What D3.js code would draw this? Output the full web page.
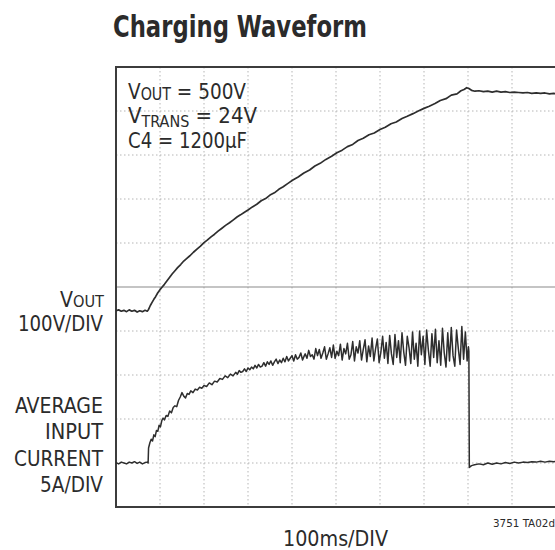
<!DOCTYPE html>
<html>
<head>
<meta charset="utf-8">
<script src="https://cdn.jsdelivr.net/npm/d3@7"></script>
<style>
  body { margin: 0; background: #fff; }
  text { font-family: "Liberation Sans Narrow", "Arial Narrow", "DejaVu Sans Condensed", sans-serif; fill: #2b2b2b; }
</style>
</head>
<body>
<div id="chart"></div>
<script>
var width = 555, height = 550

// time in ms (100ms/div), scope screen is 10 x 10 divisions
var divs = d3.range(0, 11)

// VOUT trace: [ms, volts]
var voutTrace = [
  [0,-4],[6,-2],[12,-5],[18,-3],[24,-6],[30,-2],[36,-5],[42,-3],[48,-7],[54,-4],[60,-6],[66,-3],[71,-5],[74,-1],
  [78,8],[82,15],[86,22],[90,28],[95,37],[100,44],[105,50],[110,56],[116,64],[122,72],[128,80],[134,87],[140,94],
  [147,101],[154,109],[161,115],[168,121],[176,129],[184,136],[192,143],[200,151],[208,157],[216,164],[224,170],
  [232,177],[240,183],[249,190],[258,196],[266,202],[275,209],[283,214],[292,220],[300,225],[310,232],[320,238],
  [330,246],[340,251],[350,259],[360,264],[370,272],[380,278],[390,285],[402,293],[414,300],[427,309],[440,316],
  [452,325],[464,331],[477,340],[490,347],[502,355],[514,361],[526,369],[538,374],[550,383],[562,388],[575,396],
  [587,400],[600,408],[612,413],[625,421],[637,425],[650,433],[662,438],[675,444],[687,450],[700,456],[712,461],
  [725,467],[737,474],[750,478],[762,486],[775,489],[784,496],[791,499],[797,503],[802,501],[808,497],[816,495],
  [825,496],[835,494],[845,495],[855,493],[865,495],[875,493],[885,494],[895,492],[905,493],[915,492],[925,491],
  [935,492],[945,490],[955,491],[965,490],[975,491],[985,489],[995,490],[1000,489]
]

// average input current trace: [ms, amps]
var currentTrace = [
  [0,0.05],[6,-0.1],[12,0.1],[18,0],[24,-0.1],[30,0.1],[36,0],[42,0.15],[48,-0.05],[54,0.1],[60,-0.1],[66,0.05],[71,0.1],[73,0],
  [74,1.7],[77,2.3],[80,2.7],[83,2.5],[86,3.2],[89,3.0],[92,3.7],[95,3.6],[98,4.3],[101,4.1],[104,4.8],[107,5.1],
  [110,4.9],[114,5.4],[118,5.3],[122,5.9],[126,5.7],[130,6.3],[134,6.5],[138,6.4],[142,7.1],[146,7.5],[150,8.0],
  [154,7.6],[158,7.4],[162,7.9],[166,7.8],[170,8.2],[175,8.0],[180,8.4],[185,8.3],[190,8.6],[195,8.5],[200,8.8],
  [206,8.7],[212,9.1],[218,8.9],[224,9.3],[230,9.2],[236,9.6],[242,9.5],[248,9.9],[254,9.7],[260,10.1],[266,9.9],
  [272,10.3],[276,10.1],[280,10.5],[284,10.3],[288,10.4],[292,10.7],[296,10.4],[300,10.8],[304,10.6],[308,10.9],
  [312,10.7],[316,11.1],[320,10.8],[324,11.2],[328,10.9],[332,11.0],[336,11.4],[340,11.0],[344,11.5],[348,11.2],
  [352,11.6],[356,11.1],[360,11.5],[364,11.8],[368,11.3],[372,11.7],[376,11.4],[380,11.9],[384,11.5],[388,12.1],
  [392,11.6],[396,11.9],[400,12.2],[404,11.6],[408,12.3],[412,11.8],[416,12.0],[420,12.5],[424,11.7],[428,12.2],
  [430,12.4],[434,11.9],[438,12.8],[442,12.1],[446,12.3],[450,11.8],[454,13.0],[458,12.2],[462,12.9],[466,11.9],
  [470,12.5],[474,13.2],[478,11.8],[482,12.4],[486,13.1],[490,12.0],[494,13.4],[498,11.9],[502,12.7],[506,12.2],
  [510,13.5],[514,11.7],[518,13.0],[522,12.4],[526,13.6],[530,11.8],[534,12.3],[538,13.8],[542,11.6],[546,13.2],
  [550,12.5],[554,13.9],[558,11.7],[562,12.9],[566,14.0],[570,11.5],[574,13.3],[578,12.1],[582,14.2],[586,11.6],
  [590,13.0],[594,14.1],[598,11.4],[602,12.6],[606,14.4],[610,11.9],[614,13.7],[618,11.3],[622,14.5],[626,12.4],
  [630,11.2],[634,14.6],[638,12.0],[642,13.9],[646,11.4],[650,14.8],[654,12.6],[658,11.1],[662,14.4],[666,13.1],
  [670,11.3],[674,14.9],[678,11.8],[682,13.6],[686,11.0],[690,15.0],[694,12.3],[698,14.4],[702,11.2],[706,15.1],
  [710,12.8],[714,11.0],[718,14.7],[722,12.0],[726,15.2],[730,11.4],[734,13.9],[738,11.1],[742,15.3],[746,12.5],
  [750,10.9],[754,14.8],[758,11.6],[762,15.4],[766,12.2],[770,11.0],[774,15.1],[778,13.0],[782,11.2],[786,15.5],
  [790,11.8],[794,14.9],[798,11.6],[801,13.2],[802,12.7],
  [803,-0.5],[808,-0.3],[815,-0.2],[825,-0.1],[835,-0.2],[845,0],[855,-0.15],[865,0],[875,-0.1],[885,0.05],
  [895,-0.05],[905,0.1],[915,0],[925,0.1],[935,0.05],[945,0.15],[955,0.1],[965,0.2],[975,0.1],[985,0.2],[995,0.15],[1000,0.2]
]

var conditions = [
  [["V", 22, 0], ["OUT", 17, 1], [" = 500V", 22, -1]],
  [["V", 22, 0], ["TRANS", 16, 4], [" = 24V", 22, -4]],
  [["C4 = 1200µF", 22, 0]]
]
var conditionY = [99, 122.5, 147.5]
var voutLabel = [["V", 21.5, 0], ["OUT", 16.5, 0]]
var currentLabel = ["AVERAGE", "INPUT", "CURRENT", "5A/DIV"]

// plot box (window.top is reserved, so no bare "top")
var box = {left: 116, right: 556, top: 67, bottom: 507}

var svg = d3.select("#chart").append("svg")
  .attr("width", width)
  .attr("height", height)

var gx = d3.scaleLinear().domain([0, 10]).range([box.left, box.right])
var gy = d3.scaleLinear().domain([0, 10]).range([box.bottom, box.top])
var x = d3.scaleLinear().domain([0, 1000]).range([box.left, box.right])
var yV = d3.scaleLinear().domain([-450, 550]).range([box.bottom, box.top])
var yA = d3.scaleLinear().domain([-5, 45]).range([box.bottom, box.top])

// graticule
svg.append("g").selectAll("line")
  .data(divs.slice(1, 10))
  .enter().append("line")
    .attr("x1", function(d) { return gx(d) }).attr("x2", function(d) { return gx(d) })
    .attr("y1", box.top).attr("y2", box.bottom)
    .attr("stroke", "#b5b5b5").attr("stroke-width", 1).attr("stroke-dasharray", "1.5,2.5")
svg.append("g").selectAll("line")
  .data(divs.slice(1, 10))
  .enter().append("line")
    .attr("x1", box.left).attr("x2", box.right)
    .attr("y1", function(d) { return gy(d) }).attr("y2", function(d) { return gy(d) })
    .attr("stroke", function(d) { return d == 5 ? "#8a8a8a" : "#b5b5b5" })
    .attr("stroke-width", function(d) { return d == 5 ? 1.2 : 1 })
    .attr("stroke-dasharray", function(d) { return d == 5 ? null : "1.5,2.5" })

svg.append("rect")
  .attr("x", box.left).attr("y", box.top)
  .attr("width", box.right - box.left).attr("height", box.bottom - box.top)
  .attr("fill", "none").attr("stroke", "#3c3c3c").attr("stroke-width", 2)

// traces
var voutLine = d3.line().x(function(d) { return x(d[0]) }).y(function(d) { return yV(d[1]) })
var currentLine = d3.line().x(function(d) { return x(d[0]) }).y(function(d) { return yA(d[1]) })

svg.append("path").datum(voutTrace)
  .attr("d", voutLine)
  .attr("fill", "none").attr("stroke", "#2e2e2e").attr("stroke-width", 1.7).attr("stroke-linejoin", "round")
svg.append("path").datum(currentTrace)
  .attr("d", currentLine)
  .attr("fill", "none").attr("stroke", "#2e2e2e").attr("stroke-width", 1.5).attr("stroke-linejoin", "round")

// text helper: parts are [text, size, dy]
function label(parts, px, py, len, anchor) {
  var t = svg.append("text").attr("x", px).attr("y", py).attr("text-anchor", anchor || "start")
  parts.forEach(function(p) {
    t.append("tspan").attr("font-size", p[1]).attr("dy", p[2]).text(p[0])
  })
  if (len) t.attr("textLength", len).attr("lengthAdjust", "spacingAndGlyphs")
  return t
}

svg.append("text")
  .attr("x", 113).attr("y", 37)
  .attr("font-size", 30).attr("font-weight", "bold")
  .attr("fill", "#222")
  .attr("textLength", 254).attr("lengthAdjust", "spacingAndGlyphs")
  .text("Charging Waveform")

var condLen = [118, 129, 119]
conditions.forEach(function(c, i) {
  label(c, 128, conditionY[i], condLen[i])
})

label(voutLabel, 104, 307, 44, "end")
label([["100V/DIV", 21.5, 0]], 103, 331, 85, "end")

var curLen = [88, 58, 89, 63]
currentLabel.forEach(function(s, i) {
  label([[s, 22, 0]], 103, 413 + i * 26.3, curLen[i], "end")
})

label([["100ms/DIV", 22, 0]], 283, 546, 105)
label([["3751 TA02d", 10, 0]], 493, 527, 62)
</script>
</body>
</html>
